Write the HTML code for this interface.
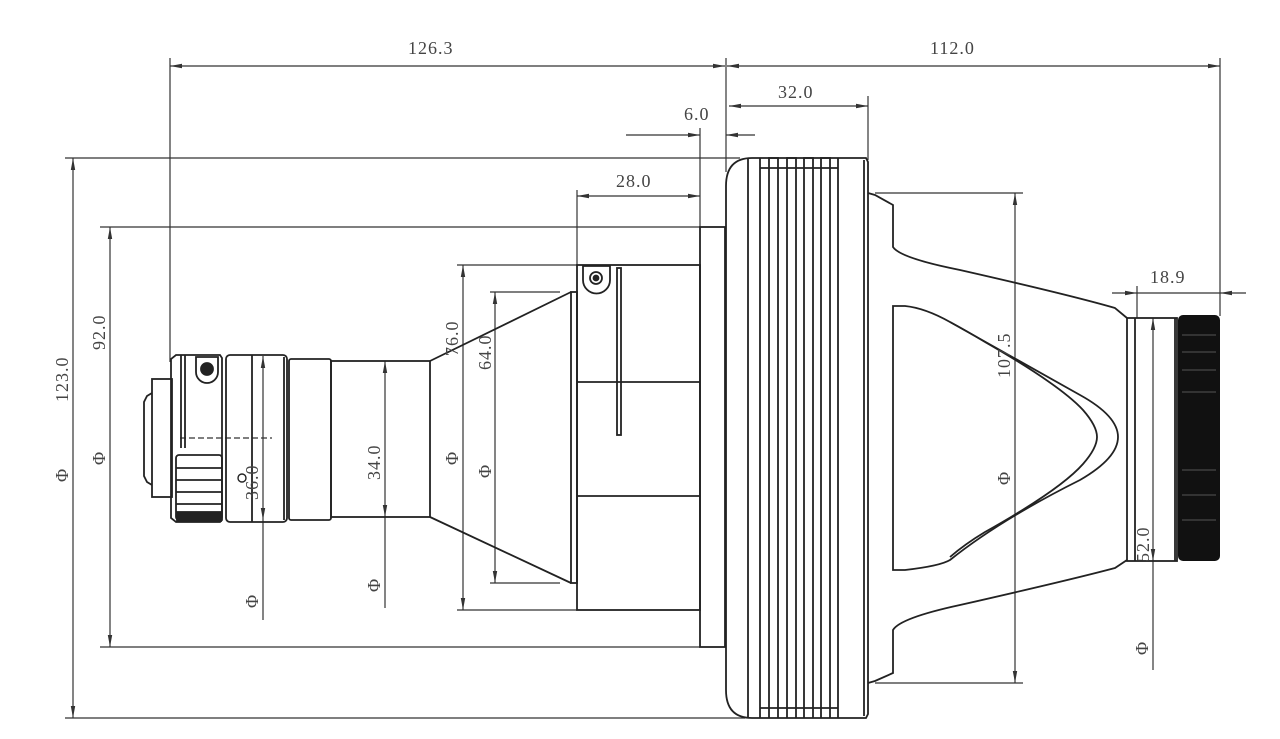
<!DOCTYPE html>
<html><head><meta charset="utf-8"><style>
html,body{margin:0;padding:0;background:#fff;}
svg{display:block}
text{font-family:"Liberation Serif",serif;font-size:18px;fill:#444;letter-spacing:1px;}
</style></head><body>
<svg width="1280" height="739" viewBox="0 0 1280 739" xmlns="http://www.w3.org/2000/svg">
<defs>
<marker id="a" viewBox="0 0 12 6" refX="12" refY="3" markerWidth="12" markerHeight="6" orient="auto-start-reverse" markerUnits="userSpaceOnUse">
<path d="M0,0.8 L12,3 L0,5.2 Z" fill="#333"/></marker>
</defs>
<g stroke="#333" stroke-width="1.2" fill="none">
<line x1="170" y1="58" x2="170" y2="362"/>
<line x1="726" y1="58" x2="726" y2="172"/>
<line x1="1220" y1="58" x2="1220" y2="316"/>
<line x1="868" y1="96" x2="868" y2="160"/>
<line x1="700" y1="128" x2="700" y2="228"/>
<line x1="577" y1="190" x2="577" y2="266"/>
<line x1="1137" y1="286" x2="1137" y2="318"/>
<line x1="65" y1="158" x2="740" y2="158"/>
<line x1="65" y1="718" x2="745" y2="718"/>
<line x1="100" y1="227" x2="700" y2="227"/>
<line x1="100" y1="647" x2="700" y2="647"/>
<line x1="457" y1="265" x2="577" y2="265"/>
<line x1="457" y1="610" x2="577" y2="610"/>
<line x1="490" y1="292" x2="560" y2="292"/>
<line x1="490" y1="583" x2="560" y2="583"/>
<line x1="875" y1="193" x2="1023" y2="193"/>
<line x1="875" y1="683" x2="1023" y2="683"/>
<line x1="170" y1="66" x2="725" y2="66" marker-start="url(#a)" marker-end="url(#a)"/>
<line x1="727" y1="66" x2="1220" y2="66" marker-start="url(#a)" marker-end="url(#a)"/>
<line x1="729" y1="106" x2="868" y2="106" marker-start="url(#a)" marker-end="url(#a)"/>
<line x1="626" y1="135" x2="700" y2="135" marker-end="url(#a)"/>
<line x1="755" y1="135" x2="726" y2="135" marker-end="url(#a)"/>
<line x1="577" y1="196" x2="700" y2="196" marker-start="url(#a)" marker-end="url(#a)"/>
<line x1="1112" y1="293" x2="1137" y2="293" marker-end="url(#a)"/>
<line x1="1246" y1="293" x2="1220" y2="293" marker-end="url(#a)"/>
<line x1="1137" y1="293" x2="1220" y2="293"/>
<line x1="73" y1="158" x2="73" y2="718" marker-start="url(#a)" marker-end="url(#a)"/>
<line x1="110" y1="227" x2="110" y2="647" marker-start="url(#a)" marker-end="url(#a)"/>
<line x1="463" y1="265" x2="463" y2="610" marker-start="url(#a)" marker-end="url(#a)"/>
<line x1="495" y1="292" x2="495" y2="583" marker-start="url(#a)" marker-end="url(#a)"/>
<line x1="263" y1="356" x2="263" y2="520" marker-start="url(#a)" marker-end="url(#a)"/>
<line x1="263" y1="520" x2="263" y2="620"/>
<line x1="385" y1="361" x2="385" y2="517" marker-start="url(#a)" marker-end="url(#a)"/>
<line x1="385" y1="517" x2="385" y2="608"/>
<line x1="1015" y1="193" x2="1015" y2="683" marker-start="url(#a)" marker-end="url(#a)"/>
<line x1="1153" y1="318" x2="1153" y2="561" marker-start="url(#a)" marker-end="url(#a)"/>
<line x1="1153" y1="561" x2="1153" y2="670"/>
<line x1="180" y1="438" x2="272" y2="438" stroke-dasharray="6,3"/>
</g>
<g stroke="#222" stroke-width="1.8" fill="none">
<path d="M152,393 L147,396 L144,402 L144,476 L147,482 L152,485"/>
<rect x="152" y="379" width="20" height="118"/>
<path d="M176,355 L220,355 L222,358 L222,520 L220,522 L176,522 L171,518 L171,359 Z"/>
<line x1="181" y1="355" x2="181" y2="448"/>
<line x1="185" y1="355" x2="185" y2="448"/>
<path d="M196,357 L218,357 L218,372 A11,11 0 0 1 196,372 Z"/>
<circle cx="207" cy="369" r="6" fill="#222"/>
<rect x="176" y="455" width="46" height="65" rx="3"/>
<line x1="176" y1="468" x2="222" y2="468"/><line x1="176" y1="480" x2="222" y2="480"/><line x1="176" y1="492" x2="222" y2="492"/><line x1="176" y1="504" x2="222" y2="504"/>
<rect x="177" y="512" width="44" height="9" fill="#222"/>
<rect x="226" y="355" width="61" height="167" rx="4"/>
<line x1="252" y1="355" x2="252" y2="522"/>
<line x1="284" y1="357" x2="284" y2="520"/>
<circle cx="242" cy="478" r="4" stroke-width="1.4"/>
<rect x="289" y="359" width="42" height="161" rx="2"/>
<rect x="331" y="361" width="99" height="156"/>
<path d="M430,361 L571,292 M430,517 L571,583"/>
<rect x="571" y="292" width="6" height="291"/>
<rect x="577" y="265" width="123" height="345"/>
<line x1="577" y1="382" x2="700" y2="382"/>
<line x1="577" y1="496" x2="700" y2="496"/>
<rect x="617" y="268" width="4" height="167"/>
<path d="M583,266 L610,266 L610,280 A13.5,13.5 0 0 1 583,280 Z"/>
<circle cx="596" cy="278" r="6"/>
<circle cx="596" cy="278" r="2.5" fill="#222"/>
<rect x="700" y="227" width="25" height="420"/>
<path d="M752,158 L866,158 L868,162 L868,714 L866,718 L752,718 Q726,718 726,690 L726,186 Q726,158 752,158 Z"/>
<line x1="748" y1="158" x2="748" y2="718"/>
<line x1="760" y1="158" x2="760" y2="718"/>
<path d="M769,718 L769,158 L778,158 L778,718 M787,718 L787,158 L796,158 L796,718 M804,718 L804,158 L813,158 L813,718 M821,718 L821,158 L830,158 L830,718"/>
<line x1="760" y1="168" x2="838" y2="168"/>
<line x1="760" y1="708" x2="838" y2="708"/>
<line x1="838" y1="158" x2="838" y2="718"/>
<line x1="864" y1="160" x2="864" y2="716"/>
<path d="M868,193 L875,195 L893,205 L893,247 Q900,258 960,270 Q1070,295 1115,308 L1127,318"/>
<path d="M868,683 L875,681 L893,673 L893,630 Q900,618 960,605 Q1070,580 1115,568 L1127,560"/>
<path d="M893,306 L893,570 L905,570 Q940,566 950,560 Q1000,520 1080,480 Q1118,458 1118,437 Q1118,416 1080,395 Q1000,350 950,322 Q925,308 905,306 Z"/>
<path d="M950,322 Q965,330 985,342 Q1060,385 1083,410 Q1097,426 1097,437 Q1097,448 1083,464 Q1060,490 985,532 Q965,544 950,557"/>
<rect x="1127" y="318" width="50" height="243"/>
<line x1="1135" y1="318" x2="1135" y2="561"/>
<line x1="1175" y1="318" x2="1175" y2="561"/>
</g>
<rect x="1178" y="315" width="42" height="246" rx="5" fill="#111"/>
<g stroke="#555" stroke-width="1">
<line x1="1182" y1="335" x2="1216" y2="335"/><line x1="1182" y1="352" x2="1216" y2="352"/><line x1="1182" y1="370" x2="1216" y2="370"/><line x1="1182" y1="392" x2="1216" y2="392"/><line x1="1182" y1="470" x2="1216" y2="470"/><line x1="1182" y1="495" x2="1216" y2="495"/><line x1="1182" y1="520" x2="1216" y2="520"/>
</g>
<text x="408" y="54">126.3</text>
<text x="930" y="54">112.0</text>
<text x="778" y="98">32.0</text>
<text x="684" y="120">6.0</text>
<text x="616" y="187">28.0</text>
<text x="1150" y="283">18.9</text>
<text transform="translate(68,402) rotate(-90)">123.0</text>
<text transform="translate(105,350) rotate(-90)">92.0</text>
<text transform="translate(458,356) rotate(-90)">76.0</text>
<text transform="translate(491,370) rotate(-90)">64.0</text>
<text transform="translate(258,500) rotate(-90)">36.0</text>
<text transform="translate(380,480) rotate(-90)">34.0</text>
<text transform="translate(1010,378) rotate(-90)">107.5</text>
<text transform="translate(1149,562) rotate(-90)">52.0</text>
<g>
<text transform="translate(68,482) rotate(-90)">Φ</text>
<text transform="translate(105,465) rotate(-90)">Φ</text>
<text transform="translate(258,608) rotate(-90)">Φ</text>
<text transform="translate(380,592) rotate(-90)">Φ</text>
<text transform="translate(458,465) rotate(-90)">Φ</text>
<text transform="translate(491,478) rotate(-90)">Φ</text>
<text transform="translate(1010,485) rotate(-90)">Φ</text>
<text transform="translate(1148,655) rotate(-90)">Φ</text>
</g>
</svg>
</body></html>
